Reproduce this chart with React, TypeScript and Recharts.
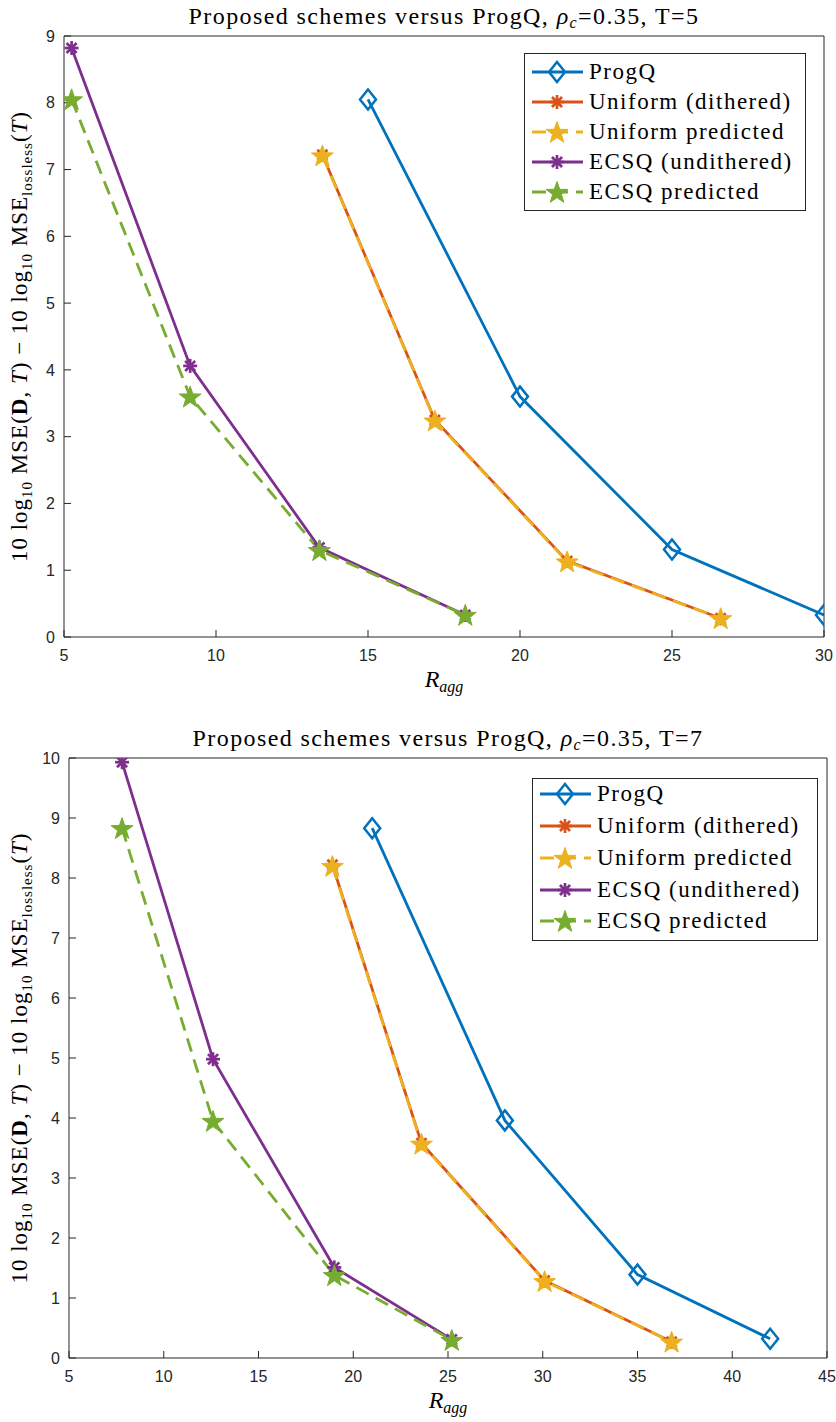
import React from "react";
import { LineChart, Line, XAxis, YAxis, Legend } from "recharts";

// T = 5 panel
const progQRate5 = [15, 20, 25, 30];
const progQMse5 = [8.05, 3.6, 1.31, 0.33];
const uniformRate5 = [13.5, 17.2, 21.55, 26.6];
const uniformMse5 = [7.22, 3.25, 1.14, 0.28];
const uniformPredMse5 = [7.21, 3.24, 1.13, 0.28];
const ecsqRate5 = [5.25, 9.15, 13.4, 18.2];
const ecsqMse5 = [8.82, 4.06, 1.34, 0.33];
const ecsqPredMse5 = [8.05, 3.6, 1.3, 0.33];

// T = 7 panel
const progQRate7 = [21, 28, 35, 42];
const progQMse7 = [8.83, 3.96, 1.39, 0.32];
const uniformRate7 = [18.9, 23.6, 30.1, 36.8];
const uniformMse7 = [8.22, 3.58, 1.29, 0.27];
const uniformPredMse7 = [8.2, 3.57, 1.28, 0.27];
const ecsqRate7 = [7.8, 12.6, 19.0, 25.2];
const ecsqMse7 = [9.93, 4.98, 1.51, 0.31];
const ecsqPredMse7 = [8.83, 3.95, 1.38, 0.3];

const xTicks5 = [5, 10, 15, 20, 25, 30];
const yTicks5 = [0, 1, 2, 3, 4, 5, 6, 7, 8, 9];
const xTicks7 = [5, 10, 15, 20, 25, 30, 35, 40, 45];
const yTicks7 = [0, 1, 2, 3, 4, 5, 6, 7, 8, 9, 10];

const seriesNames = [
  "ProgQ",
  "Uniform (dithered)",
  "Uniform predicted",
  "ECSQ (undithered)",
  "ECSQ predicted",
];

const AX = "#262626";
const SERIF = "'Liberation Serif', 'Times New Roman', serif";
const SANS = "'Liberation Sans', Arial, sans-serif";

type Pt = { x: number; y: number };
type Kind = "diamond" | "asterisk" | "star";

const styles: { color: string; marker: Kind; dash?: string }[] = [
  { color: "#0072BD", marker: "diamond" },
  { color: "#D95319", marker: "asterisk" },
  { color: "#EDB120", marker: "star", dash: "14 8" },
  { color: "#7E2F8E", marker: "asterisk" },
  { color: "#77AC30", marker: "star", dash: "14 8" },
];

const toPoints = (xs: number[], ys: number[]): Pt[] =>
  xs.map((x, i) => ({ x, y: ys[i] }));

function starPath(cx: number, cy: number, R: number) {
  const r = R * 0.4;
  let d = "";
  for (let i = 0; i < 10; i++) {
    const a = -Math.PI / 2 + (i * Math.PI) / 5;
    const rad = i % 2 === 0 ? R : r;
    d += (i === 0 ? "M" : "L") + (cx + rad * Math.cos(a)).toFixed(2) + " " + (cy + rad * Math.sin(a)).toFixed(2);
  }
  return d + "Z";
}

function Marker({ kind, cx, cy, color }: { kind: Kind; cx: number; cy: number; color: string }) {
  if (kind === "diamond") {
    return (
      <path
        d={`M${cx} ${cy - 10}L${cx + 8} ${cy}L${cx} ${cy + 10}L${cx - 8} ${cy}Z`}
        fill="none"
        stroke={color}
        strokeWidth={2.5}
      />
    );
  }
  if (kind === "star") {
    return <path d={starPath(cx, cy + 1, 11.5)} fill={color} stroke={color} strokeWidth={1} />;
  }
  const s = 7;
  const d2 = s * 0.72;
  return (
    <g stroke={color} strokeWidth={2.7}>
      <line x1={cx - s} y1={cy} x2={cx + s} y2={cy} />
      <line x1={cx} y1={cy - s} x2={cx} y2={cy + s} />
      <line x1={cx - d2} y1={cy - d2} x2={cx + d2} y2={cy + d2} />
      <line x1={cx - d2} y1={cy + d2} x2={cx + d2} y2={cy - d2} />
    </g>
  );
}

// px / py are used instead of x / y because recharts overrides x and y on label elements
function ChartTitle({ px, py, t }: { px: number; py: number; t: number }) {
  return (
    <text x={px} y={py} textAnchor="middle" fontFamily={SERIF} fontSize={24} letterSpacing={1.4} fill="#000">
      Proposed schemes versus ProgQ,{" "}
      <tspan fontStyle="italic">ρ</tspan>
      <tspan fontStyle="italic" fontSize={16} dy={4}>c</tspan>
      <tspan dy={-4}>=0.35, T={t}</tspan>
    </text>
  );
}

function XTitle({ px, py }: { px: number; py: number }) {
  return (
    <text x={px} y={py} textAnchor="middle" fontFamily={SERIF} fontSize={24} fill="#000">
      <tspan fontStyle="italic">R</tspan>
      <tspan fontStyle="italic" fontSize={16} dy={5}>agg</tspan>
    </text>
  );
}

function YTitle({ px, pcy }: { px: number; pcy: number }) {
  return (
    <text
      x={0}
      y={0}
      transform={`translate(${px},${pcy}) rotate(-90)`}
      textAnchor="middle"
      fontFamily={SERIF}
      fontSize={23}
      letterSpacing={1}
      fill="#000"
    >
      10 log<tspan fontSize={15} dy={5}>10</tspan>
      <tspan dy={-5}> MSE(</tspan>
      <tspan fontWeight="bold">D</tspan>, <tspan fontStyle="italic">T</tspan>) − 10 log
      <tspan fontSize={15} dy={5}>10</tspan>
      <tspan dy={-5}> MSE</tspan>
      <tspan fontSize={15} dy={5}>lossless</tspan>
      <tspan dy={-5}>(</tspan>
      <tspan fontStyle="italic">T</tspan>)
    </text>
  );
}

function LegendBox({ w, h, rows }: { w: number; h: number; rows: number[] }) {
  return (
    <svg width={w} height={h} style={{ display: "block" }}>
      <rect x={0.5} y={0.5} width={w - 1} height={h - 1} fill="#fff" stroke={AX} strokeWidth={1} />
      {seriesNames.map((name, i) => {
        const st = styles[i];
        const y = rows[i];
        return (
          <g key={name}>
            <line x1={8} x2={59} y1={y} y2={y} stroke={st.color} strokeWidth={2.8} strokeDasharray={st.dash} />
            <Marker kind={st.marker} cx={33} cy={y} color={st.color} />
            <text x={65} y={y + 7} fontFamily={SERIF} fontSize={23} letterSpacing={1.5} fill="#000">
              {name}
            </text>
          </g>
        );
      })}
    </svg>
  );
}

type PanelProps = {
  t: number;
  width: number;
  height: number;
  margin: { top: number; right: number; bottom: number; left: number };
  yAxisWidth: number;
  xAxisHeight: number;
  xDomain: [number, number];
  yDomain: [number, number];
  xTicks: number[];
  yTicks: number[];
  series: Pt[][];
  legend: { left: number; top: number; w: number; h: number; rows: number[] };
  titleY: number;
  xLabelY: number;
  yLabelX: number;
};

function Panel(p: PanelProps) {
  const plotLeft = p.margin.left + p.yAxisWidth;
  const plotRight = p.width - p.margin.right - 1;
  const plotTop = p.margin.top + 1;
  const plotBottom = p.height - p.margin.bottom - p.xAxisHeight;
  const cx = (plotLeft + plotRight) / 2;
  const cy = (plotTop + plotBottom) / 2;
  const tickStyle = { fontFamily: SANS, fontSize: 16, fill: AX };
  return (
    <LineChart width={p.width} height={p.height} margin={p.margin}>
      <XAxis
        type="number"
        dataKey="x"
        domain={p.xDomain}
        ticks={p.xTicks}
        interval={0}
        allowDataOverflow
        height={p.xAxisHeight}
        tickSize={-7}
        tickMargin={20}
        tick={tickStyle}
        axisLine={{ stroke: AX }}
        tickLine={{ stroke: AX }}
        label={<XTitle px={cx} py={p.xLabelY} />}
      />
      <XAxis
        xAxisId="top"
        orientation="top"
        type="number"
        dataKey="x"
        domain={p.xDomain}
        ticks={p.xTicks}
        interval={0}
        height={1}
        tickSize={-7}
        tick={false}
        axisLine={{ stroke: AX }}
        tickLine={{ stroke: AX }}
        label={<ChartTitle px={cx} py={p.titleY} t={p.t} />}
      />
      <YAxis
        type="number"
        dataKey="y"
        domain={p.yDomain}
        ticks={p.yTicks}
        interval={0}
        allowDataOverflow
        width={p.yAxisWidth}
        tickSize={-7}
        tickMargin={16}
        tick={tickStyle}
        axisLine={{ stroke: AX }}
        tickLine={{ stroke: AX }}
        label={<YTitle px={p.yLabelX} pcy={cy} />}
      />
      <YAxis
        yAxisId="right"
        orientation="right"
        type="number"
        dataKey="y"
        domain={p.yDomain}
        ticks={p.yTicks}
        interval={0}
        width={1}
        tickSize={-7}
        tick={false}
        axisLine={{ stroke: AX }}
        tickLine={{ stroke: AX }}
      />
      {p.series.map((data, i) => {
        const st = styles[i];
        return (
          <Line
            key={seriesNames[i]}
            name={seriesNames[i]}
            data={data}
            dataKey="y"
            type="linear"
            stroke={st.color}
            strokeWidth={2.8}
            strokeDasharray={st.dash}
            isAnimationActive={false}
            activeDot={false}
            dot={(d: any) => (
              <Marker key={`${i}-${d.index}`} kind={st.marker} cx={d.cx} cy={d.cy} color={st.color} />
            )}
          />
        );
      })}
      <Legend
        layout="vertical"
        align="center"
        verticalAlign="middle"
        wrapperStyle={{ left: p.legend.left, top: p.legend.top, width: p.legend.w, height: p.legend.h }}
        content={() => <LegendBox w={p.legend.w} h={p.legend.h} rows={p.legend.rows} />}
      />
    </LineChart>
  );
}

export default function App() {
  const top5 = [
    toPoints(progQRate5, progQMse5),
    toPoints(uniformRate5, uniformMse5),
    toPoints(uniformRate5, uniformPredMse5),
    toPoints(ecsqRate5, ecsqMse5),
    toPoints(ecsqRate5, ecsqPredMse5),
  ];
  const bottom7 = [
    toPoints(progQRate7, progQMse7),
    toPoints(uniformRate7, uniformMse7),
    toPoints(uniformRate7, uniformPredMse7),
    toPoints(ecsqRate7, ecsqMse7),
    toPoints(ecsqRate7, ecsqPredMse7),
  ];
  return (
    <div style={{ position: "absolute", left: 0, top: 0, width: 836, height: 1422, background: "#fff" }}>
      <div style={{ position: "absolute", left: 0, top: 0 }}>
        <Panel
          t={5}
          width={836}
          height={710}
          margin={{ top: 35, right: 11, bottom: 0, left: 0 }}
          yAxisWidth={64}
          xAxisHeight={73}
          xDomain={[5, 30]}
          yDomain={[0, 9]}
          xTicks={xTicks5}
          yTicks={yTicks5}
          series={top5}
          legend={{ left: 524, top: 53, w: 282, h: 158, rows: [19, 49, 79, 109, 139] }}
          titleY={24}
          xLabelY={687}
          yLabelX={27}
        />
      </div>
      <div style={{ position: "absolute", left: 0, top: 710 }}>
        <Panel
          t={7}
          width={836}
          height={712}
          margin={{ top: 47, right: 8, bottom: 0, left: 0 }}
          yAxisWidth={69}
          xAxisHeight={64}
          xDomain={[5, 45]}
          yDomain={[0, 10]}
          xTicks={xTicks7}
          yTicks={yTicks7}
          series={bottom7}
          legend={{ left: 532, top: 68, w: 286, h: 163, rows: [16, 48, 80, 112, 143] }}
          titleY={36}
          xLabelY={698}
          yLabelX={27}
        />
      </div>
    </div>
  );
}
